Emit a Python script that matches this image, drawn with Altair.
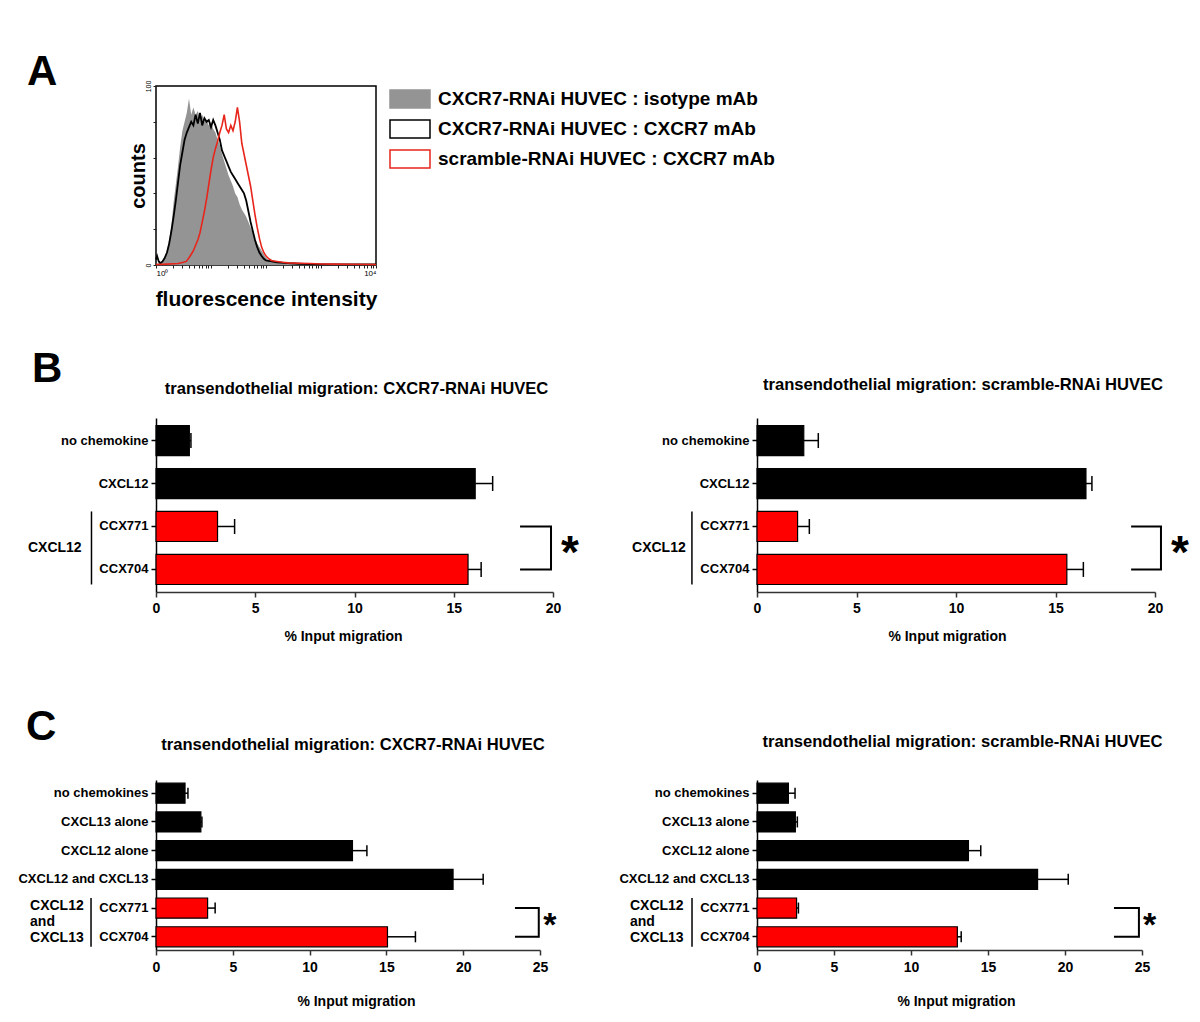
import altair as alt
import pandas as pd

FONT = "Liberation Sans"
GRAY = "#949494"
RED_LINE = "#e8251b"
RED_BAR = "#ff0000"

# ---------------- Panel A : flow-cytometry histograms ----------------
SERIES = [
    "CXCR7-RNAi HUVEC : isotype mAb",
    "CXCR7-RNAi HUVEC : CXCR7 mAb",
    "scramble-RNAi HUVEC : CXCR7 mAb",
]
# log10(fluorescence intensity) positions and counts
ISO_LOG = [0.00, 0.05, 0.10, 0.15, 0.20, 0.24, 0.28, 0.32, 0.36, 0.40, 0.44, 0.48,
           0.52, 0.56, 0.60, 0.64, 0.68, 0.72, 0.76, 0.80, 0.84, 0.88, 0.92, 0.96,
           1.00, 1.04, 1.08, 1.12, 1.16, 1.20, 1.24, 1.28, 1.32, 1.36, 1.40, 1.44,
           1.48, 1.52, 1.56, 1.60, 1.64, 1.68, 1.72, 1.76, 1.80, 1.84, 1.88, 1.92,
           1.96, 2.00, 2.05, 2.10, 2.20, 2.30, 2.40, 2.50, 2.60, 2.80, 3.00, 3.20,
           3.50, 3.80, 4.00]
ISO_CNT = [0.5, 1, 2, 4, 8, 14, 22, 35, 45, 55, 66, 75,
           80, 85, 93, 84, 88, 84, 86, 82, 84, 80, 81, 78,
           80, 76, 74, 70, 67, 62, 58, 54, 50, 47, 44, 40,
           38, 34, 31, 29, 27, 24, 21, 18, 15, 12, 10, 8,
           6, 4, 3, 2.5, 2, 1.8, 1.5, 1.2, 1.0, 0.8, 0.6, 0.5,
           0.4, 0.3, 0.2]
BLK_LOG = [0.00, 0.02, 0.05, 0.08, 0.12, 0.16, 0.20, 0.24, 0.28, 0.32, 0.36, 0.40,
           0.44, 0.48, 0.52, 0.56, 0.60, 0.64, 0.68, 0.72, 0.76, 0.80, 0.84, 0.88,
           0.92, 0.96, 1.00, 1.04, 1.08, 1.12, 1.16, 1.20, 1.24, 1.28, 1.32, 1.36,
           1.40, 1.44, 1.48, 1.52, 1.56, 1.60, 1.64, 1.68, 1.72, 1.76, 1.80, 1.84,
           1.88, 1.92, 1.96, 2.00, 2.10, 2.20, 2.40, 2.60, 2.80, 3.00, 3.50, 4.00]
BLK_CNT = [3, 5, 2, 1, 2, 4, 7, 12, 19, 27, 36, 46,
           56, 63, 70, 74, 77, 80, 78, 84, 79, 85, 78, 82,
           80, 81, 77, 81, 78, 74, 70, 64, 61, 58, 55, 52,
           50, 48, 46, 44, 42, 40, 36, 30, 24, 19, 14, 10,
           7, 5, 3.5, 2.5, 2, 1.5, 1, 0.7, 0.5, 0.4, 0.3, 0.3]
RED_LOG = [0.00, 0.20, 0.40, 0.50, 0.55, 0.60, 0.64, 0.68, 0.72, 0.76, 0.80, 0.84,
           0.88, 0.92, 0.96, 1.00, 1.04, 1.08, 1.12, 1.16, 1.20, 1.24, 1.28, 1.32,
           1.36, 1.40, 1.44, 1.48, 1.52, 1.56, 1.60, 1.64, 1.68, 1.72, 1.76, 1.80,
           1.84, 1.88, 1.92, 1.96, 2.00, 2.05, 2.10, 2.20, 2.30, 2.40, 2.60, 2.80,
           3.00, 3.20, 3.50, 4.00]
RED_CNT = [0.3, 0.5, 0.8, 1.5, 2, 4, 6, 8, 11, 14, 18, 24,
           30, 37, 45, 53, 60, 65, 69, 74, 78, 84, 76, 74,
           78, 75, 80, 88, 80, 68, 62, 56, 50, 44, 36, 28,
           21, 15, 10, 7, 5, 3.5, 2.5, 2, 1.5, 1.2, 1, 0.8,
           0.6, 0.5, 0.4, 0.3]

# ---------------- Panel B ----------------
B_CATS = ["no chemokine", "CXCL12", "CCX771", "CCX704"]
B_KINDS = ["chemokine", "chemokine", "antagonist", "antagonist"]
BL_MEAN = [1.68, 16.08, 3.10, 15.72]
BL_SEM = [0.08, 0.88, 0.86, 0.66]
BR_MEAN = [2.35, 16.53, 2.04, 15.57]
BR_SEM = [0.73, 0.30, 0.59, 0.83]

# ---------------- Panel C ----------------
C_CATS = ["no chemokines", "CXCL13 alone", "CXCL12 alone", "CXCL12 and CXCL13",
          "CCX771", "CCX704"]
C_KINDS = ["chemokine"] * 4 + ["antagonist"] * 2
CL_MEAN = [1.89, 2.92, 12.79, 19.34, 3.36, 15.07]
CL_SEM = [0.19, 0.07, 0.94, 1.96, 0.49, 1.82]
CR_MEAN = [2.04, 2.49, 13.73, 18.22, 2.57, 13.01]
CR_SEM = [0.43, 0.13, 0.80, 1.99, 0.12, 0.25]

TITLE_L = "transendothelial migration: CXCR7-RNAi HUVEC"
TITLE_R = "transendothelial migration: scramble-RNAi HUVEC"


def hist_frame(logs, counts, name):
    assert len(logs) == len(counts)
    return pd.DataFrame({"intensity": [10 ** v for v in logs],
                         "count": counts, "series": name})


hist_df = pd.concat([hist_frame(ISO_LOG, ISO_CNT, SERIES[0]),
                     hist_frame(BLK_LOG, BLK_CNT, SERIES[1]),
                     hist_frame(RED_LOG, RED_CNT, SERIES[2])])

LOG_TICKS = [k * 10 ** d for d in range(4) for k in range(1, 10)] + [10000]

x_h = alt.X("intensity:Q", scale=alt.Scale(type="log", domain=[1, 10000]),
            axis=alt.Axis(values=LOG_TICKS,
                          labelExpr="datum.value == 1 ? '10\u2070' : (datum.value == 10000 ? '10\u2074' : '')",
                          labelFontSize=8, labelOverlap=False, labelPadding=1,
                          tickSize=3, tickColor="#222", domain=False, grid=False,
                          title="fluorescence intensity", titleFontSize=21,
                          titleFontWeight="bold", titlePadding=11, titleColor="black"))
y_h = alt.Y("count:Q", scale=alt.Scale(domain=[0, 100]),
            axis=alt.Axis(values=[0, 20, 40, 60, 80, 100],
                          labelExpr="datum.value == 0 || datum.value == 100 ? datum.label : ''",
                          labelAngle=270, labelFontSize=7, labelPadding=2,
                          tickSize=3, tickColor="#222", domain=False, grid=False,
                          title="counts", titleFontSize=20, titleFontWeight="bold",
                          titlePadding=-4, titleColor="black"))

# 40 x 18 px swatches drawn from a path twice as large as the nominal symbol size
leg = alt.Legend(title=None, orient="none", legendX=241, legendY=0, padding=2,
                 symbolType="M-2,-0.9H2V0.9H-2Z", symbolSize=400,
                 symbolStrokeWidth=1.5, symbolOpacity=1,
                 labelFontSize=19, labelFontWeight="bold", labelColor="black",
                 labelOffset=17, rowPadding=6, labelLimit=600)

base_h = alt.Chart(hist_df)
area = base_h.transform_filter(alt.datum.series == SERIES[0]).mark_area(
    opacity=1).encode(
    x=x_h, y=y_h,
    fill=alt.Fill("series:N", scale=alt.Scale(domain=SERIES, range=[GRAY, "#ffffff", "#ffffff"]),
                  legend=leg))
stroke_enc = alt.Stroke("series:N", scale=alt.Scale(domain=SERIES, range=[GRAY, "#000000", RED_LINE]),
                        legend=leg)
black_line = base_h.transform_filter(alt.datum.series == SERIES[1]).mark_line(
    strokeWidth=1.8).encode(x=x_h, y=y_h, stroke=stroke_enc)
red_line = base_h.transform_filter(alt.datum.series == SERIES[2]).mark_line(
    strokeWidth=1.6).encode(x=x_h, y=y_h, stroke=stroke_enc)
letter_a = alt.Chart(pd.DataFrame({"t": ["A"]})).mark_text(
    align="left", baseline="alphabetic", fontSize=42, fontWeight="bold", color="black"
).encode(text="t:N", x=alt.value(-129), y=alt.value(-1))

hist = alt.layer(area, black_line, red_line, letter_a).properties(
    width=220, height=179, view=alt.ViewBackground(stroke="black", strokeWidth=1.5))

PIN = 0.3
LINE_H = 16


def bar_panel(cats, kinds, means, sems, title, t_offset, t_dx, xmax, width, height,
              pout, cap, group_label, gline_x, gtext_x, br_x1, br_x2, star_x, star_size,
              star_dy, xlabel_pad, xtitle_x, xtitle_y, spacer_y=None):
    n = len(cats)
    step = height / (n - PIN + 2 * pout)
    gap_half = step * PIN / 2  # half the gap between two bars
    n_lines = group_label.count("\n") + 1
    df = pd.DataFrame({"cat": cats, "kind": kinds, "mean": means,
                       "upper": [m + s for m, s in zip(means, sems)]})
    yscale = alt.Scale(domain=cats, paddingInner=PIN, paddingOuter=pout)
    yaxis = alt.Axis(title=None, labelFontSize=13, labelFontWeight="bold", labelColor="black",
                     tickSize=5, tickWidth=1.5, tickColor="black", domainColor="black",
                     domainWidth=1.5, labelPadding=3, grid=False, labelLimit=300)
    xscale = alt.Scale(domain=[0, xmax], nice=False)
    xaxis = alt.Axis(title="% Input migration", values=list(range(0, xmax + 1, 5)),
                     grid=False, labelFontSize=14, labelFontWeight="bold", labelColor="black",
                     tickSize=5, tickWidth=1.5, tickColor="#333333", domainColor="#333333",
                     domainWidth=1.5, labelPadding=xlabel_pad, labelFlush=False,
                     titleFontSize=14, titleFontWeight="bold", titleColor="black",
                     titleX=xtitle_x, titleY=xtitle_y, titleAlign="center",
                     titleBaseline="alphabetic")

    def Y(**kw):
        return alt.Y("cat:N", sort=cats, scale=yscale, axis=yaxis, **kw)

    def X(field):
        return alt.X(f"{field}:Q", scale=xscale, axis=xaxis)

    bars = alt.Chart(df).mark_bar(stroke="black", strokeWidth=1.2, opacity=1).encode(
        x=X("mean"), y=Y(),
        fill=alt.condition(alt.datum.kind == "chemokine", alt.value("#000000"),
                           alt.value(RED_BAR)))
    err = alt.Chart(df).mark_rule(color="black", strokeWidth=1.5).encode(
        x=X("mean"), x2="upper", y=Y())
    caps = alt.Chart(df).mark_tick(color="black", thickness=1.5, size=cap, opacity=1).encode(
        x=X("upper"), y=Y())
    br_df = pd.DataFrame({"x": [br_x1, br_x2, br_x2, br_x1],
                          "cat": ["CCX771", "CCX771", "CCX704", "CCX704"],
                          "o": [0, 1, 2, 3]})
    bracket = alt.Chart(br_df).mark_line(color="black", strokeWidth=2).encode(
        x=X("x"), y=Y(), order="o:Q")
    g_df = pd.DataFrame({"x": [gline_x], "cat": ["CCX771"], "cat2": ["CCX704"]})
    gline = alt.Chart(g_df).mark_rule(color="black", strokeWidth=1.5).encode(
        x=X("x"), y=Y(bandPosition=0), y2=alt.Y2("cat2", bandPosition=1))
    gt_df = pd.DataFrame({"x": [gtext_x], "cat": ["CCX771"], "t": [group_label]})
    gtext = alt.Chart(gt_df).mark_text(
        align="left", baseline="middle", fontSize=14, fontWeight="bold", color="black",
        lineBreak="\n", lineHeight=LINE_H,
        dy=gap_half - LINE_H * (n_lines - 1) / 2).encode(
        x=X("x"), y=Y(bandPosition=1), text="t:N")
    st_df = pd.DataFrame({"x": [star_x], "cat": ["CCX771"], "t": ["*"]})
    star = alt.Chart(st_df).mark_text(
        align="center", baseline="alphabetic", fontSize=star_size, fontWeight="bold",
        color="black", dy=star_dy + gap_half).encode(
        x=X("x"), y=Y(bandPosition=1), text="t:N")
    layers = [bars, err, caps, bracket, gline, gtext, star]
    if spacer_y is not None:
        spacer = alt.Chart(pd.DataFrame({"s": [0]})).mark_rule(strokeOpacity=0).encode(
            x=alt.value(0), x2=alt.value(1), y=alt.value(spacer_y))
        layers.append(spacer)
    return alt.layer(*layers).properties(
        width=width, height=height,
        title=alt.TitleParams(title, fontSize=16.6, fontWeight="bold", color="black",
                              anchor="middle", frame="group", baseline="alphabetic",
                              offset=t_offset, dx=t_dx))


BL = bar_panel(B_CATS, B_KINDS, BL_MEAN, BL_SEM, TITLE_L, 7, 2, 20, 397, 174, 0.175, 15,
               "CXCL12", -3.25, -6.45, 18.34, 19.9, 20.86, 46, 20.3, 4, 187, 48.5,
               spacer_y=250)
BR = bar_panel(B_CATS, B_KINDS, BR_MEAN, BR_SEM, TITLE_R, 11, 7, 20, 398, 174, 0.175, 15,
               "CXCL12", -3.27, -6.28, 18.8, 20.3, 21.25, 46, 20.3, 4, 190, 48.5)
CL = bar_panel(C_CATS, C_KINDS, CL_MEAN, CL_SEM, TITLE_L, 13, 5, 25, 384, 170, 0.11, 11,
               "CXCL12\nand\nCXCL13", -4.23, -8.2, 23.37, 24.92, 25.64, 34, 14, 5.5, 200, 55.5)
CR = bar_panel(C_CATS, C_KINDS, CR_MEAN, CR_SEM, TITLE_R, 16, 13, 25, 385, 170, 0.11, 11,
               "CXCL12\nand\nCXCL13", -4.22, -8.25, 23.18, 24.8, 25.5, 34, 14, 5.5, 199, 55.5)


def letter_title(t, offset, dx):
    return alt.TitleParams(t, anchor="start", frame="bounds", fontSize=42, fontWeight="bold",
                           color="black", baseline="alphabetic", offset=offset, dx=dx)


row_b = alt.hconcat(BL, BR, spacing=204, bounds="flush").properties(
    title=letter_title("B", -47, 4))
row_c = alt.hconcat(CL, CR, spacing=217, bounds="flush").properties(
    title=letter_title("C", -48, 8))

chart = alt.vconcat(hist, row_b, row_c, spacing=38).properties(
    padding={"left": 9, "top": 42, "right": 0, "bottom": 0}
).resolve_scale(fill="independent", stroke="independent").configure(
    font=FONT).configure_view(strokeWidth=0)

chart.save("out.html", embed_options={"renderer": "svg", "actions": False})
